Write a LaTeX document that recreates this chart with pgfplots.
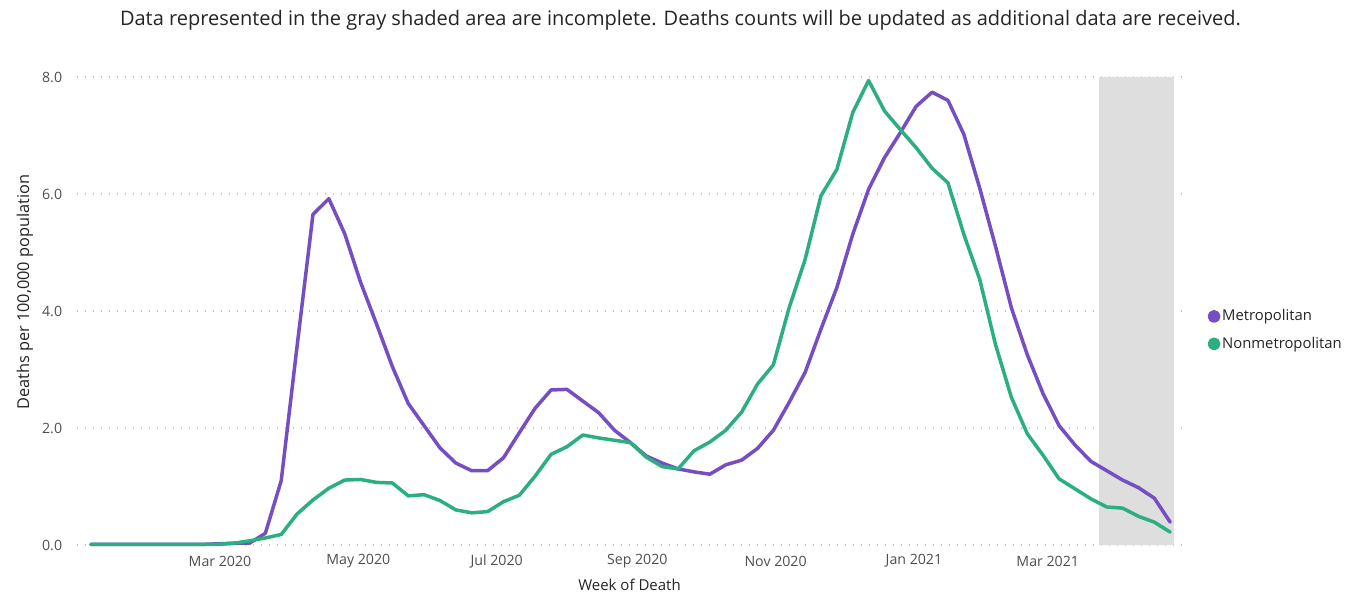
\documentclass[border=0pt]{standalone}
\usepackage{pgfplots}
\pgfplotsset{compat=1.18}
\usepackage{pgfplotstable}
\usepackage{fontspec}
\setmainfont{Open Sans}
\definecolor{metro}{RGB}{116,78,194}
\definecolor{nonmetro}{RGB}{44,175,127}
\definecolor{shade}{RGB}{222,222,222}
\definecolor{titlec}{RGB}{37,36,35}
\definecolor{tickc}{RGB}{80,78,76}
\definecolor{gridc}{RGB}{200,200,200}

% day = days since 1 Jan 2020 (week ending dates)
\pgfplotstableread{
day metro nonmetro
3 0.01 0.01
10 0.01 0.01
17 0.01 0.01
24 0.01 0.01
31 0.01 0.01
38 0.01 0.01
45 0.01 0.01
52 0.01 0.01
59 0.02 0.01
66 0.03 0.03
73 0.03 0.07
80 0.20 0.12
87 1.10 0.18
94 3.40 0.53
101 5.65 0.77
108 5.92 0.97
115 5.32 1.11
122 4.49 1.12
129 3.78 1.07
136 3.05 1.06
143 2.42 0.84
150 2.04 0.86
157 1.66 0.76
164 1.40 0.60
171 1.27 0.55
178 1.27 0.57
185 1.49 0.74
192 1.92 0.85
199 2.34 1.18
206 2.65 1.55
213 2.66 1.68
220 2.46 1.88
227 2.26 1.83
234 1.96 1.79
241 1.75 1.75
248 1.52 1.50
255 1.40 1.34
262 1.30 1.30
269 1.25 1.61
276 1.21 1.76
283 1.37 1.96
290 1.45 2.27
297 1.65 2.75
304 1.96 3.08
311 2.44 4.06
318 2.95 4.88
325 3.69 5.97
332 4.40 6.42
339 5.31 7.39
346 6.08 7.94
353 6.62 7.42
360 7.05 7.10
367 7.50 6.79
374 7.74 6.44
381 7.60 6.19
388 7.02 5.31
395 6.10 4.54
402 5.10 3.42
409 4.05 2.52
416 3.25 1.90
423 2.58 1.53
430 2.04 1.13
437 1.71 0.96
444 1.43 0.79
451 1.27 0.65
458 1.11 0.63
465 0.98 0.49
472 0.80 0.39
479 0.39 0.22
}\datatable

\begin{document}
\begin{tikzpicture}
\useasboundingbox (0,0) rectangle (807pt,355.2pt);
\node[font=\fontsize{12.0}{14}\selectfont, text=titlec] at (408.3pt,343.2pt)
  {Data represented in the gray shaded area are incomplete. Deaths counts will be updated as additional data are received.};
\begin{axis}[
  at={(46.2pt,28.2pt)}, anchor=south west,
  scale only axis, width=663pt, height=280.8pt,
  xmin=-3.05, xmax=484.2, ymin=0, ymax=8,
  axis line style={draw=none},
  major tick length=0pt,
  xtick={60,121,182,244,305,366,425},
  xticklabels={Mar 2020,May 2020,Jul 2020,Sep 2020,Nov 2020,Jan 2021,Mar 2021},
  ytick={0,2,4,6,8},
  /pgf/number format/fixed,
  /pgf/number format/fixed zerofill,
  /pgf/number format/precision=1,
  /pgf/number format/assume math mode=true,
  ymajorgrids,
  grid style={gridc, line width=0.7pt, dash pattern=on 0.7pt off 4.1pt},
  ticklabel style={font=\fontsize{8.5}{10}\selectfont, text=tickc},
  xticklabel style={anchor=center, yshift=-9.6pt},
  yticklabel style={anchor=east, xshift=-5.4pt},
  xlabel={Week of Death},
  xlabel style={at={(axis description cs:0.5,0)}, anchor=center, yshift=-24pt, font=\fontsize{9.0}{10}\selectfont, text=titlec},
  ylabel={Deaths per 100,000 population},
  ylabel style={at={(axis description cs:0,0.54)}, anchor=center, yshift=31.2pt, font=\fontsize{9.8}{11}\selectfont, text=titlec},
  legend style={at={(axis description cs:1.0229,0.459)}, anchor=west, draw=none, fill=none,
    inner sep=0pt, font=\fontsize{8.9}{10}\selectfont, text=titlec,
    row sep=6.2pt, nodes={inner sep=1pt, anchor=west}},
  legend cell align=left,
  legend image code/.code={\fill[#1] (2.8pt,0pt) circle (2.8pt);},
  every axis plot/.append style={line join=round, line cap=round},
  clip=false,
]
\addplot[fill=shade, draw=none, forget plot] coordinates {(447.5,0) (447.5,8) (480.6,8) (480.6,0)} \closedcycle;
\addplot[color=metro, line width=2.1pt] table[x=day, y=metro] {\datatable};
\addlegendentry{Metropolitan}
\addplot[color=nonmetro, line width=2.1pt] table[x=day, y=nonmetro] {\datatable};
\addlegendentry{Nonmetropolitan}
\end{axis}
\end{tikzpicture}
\end{document}
